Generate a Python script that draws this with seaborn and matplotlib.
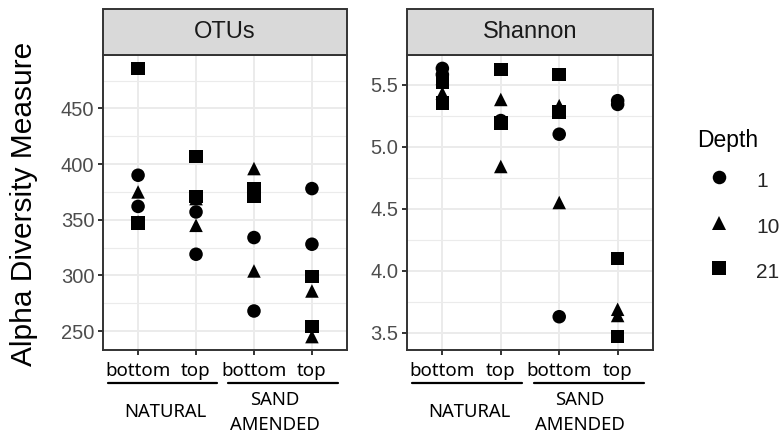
import numpy as np
import pandas as pd
import matplotlib
matplotlib.use("Agg")
import matplotlib.pyplot as plt
import matplotlib.transforms as mtransforms
from matplotlib.patches import Rectangle
from matplotlib.lines import Line2D
from matplotlib.ticker import MultipleLocator, FormatStrFormatter
import seaborn as sns

# ---------------- data ----------------
treatment = ["NATURAL"] * 12 + ["SAND AMENDED"] * 12
position = (["bottom"] * 6 + ["top"] * 6) * 2
depth = ["1", "1", "10", "10", "21", "21"] * 4
otus = [390, 362, 375, 348, 486, 347,
        357, 319, 345, 369, 407, 371,
        334, 268, 396, 304, 378, 371,
        378, 328, 286, 245, 299, 254]
shannon = [5.63, 5.58, 5.55, 5.43, 5.52, 5.35,
           5.21, 5.20, 5.38, 4.84, 5.62, 5.19,
           5.10, 3.63, 5.33, 4.55, 5.58, 5.28,
           5.37, 5.34, 3.69, 3.64, 4.10, 3.47]
measures = ["OTUs", "Shannon"]
depth_levels = ["1", "10", "21"]
x_categories = ["NATURAL|bottom", "NATURAL|top",
                "SAND AMENDED|bottom", "SAND AMENDED|top"]
x_ticklabels = ["bottom", "top", "bottom", "top"]
group_labels = ["NATURAL", "SAND\nAMENDED"]

df = pd.DataFrame({"Treatment": treatment, "Position": position,
                   "Depth": depth, "OTUs": otus, "Shannon": shannon})
df["x"] = pd.Categorical(df["Treatment"] + "|" + df["Position"],
                         categories=x_categories, ordered=True)
long = df.melt(id_vars=["Treatment", "Position", "Depth", "x"],
               value_vars=measures, var_name="Measure", value_name="value")

# ---------------- style ----------------
sns.set_theme(style="white")
plt.rcParams["font.family"] = ["Liberation Sans", "DejaVu Sans"]

W, H = 783, 434
fig = plt.figure(figsize=(W / 100, H / 100), dpi=100)


def rect(l, r, t, b):
    return [l / W, 1 - b / H, (r - l) / W, (b - t) / H]


ax1 = fig.add_axes(rect(103.3, 346.7, 55, 350))
ax2 = fig.add_axes(rect(407.3, 652.7, 55, 350))
axes = [ax1, ax2]
panel_h = 295.0

marker_map = {"1": "o", "10": "^", "21": "s"}
dark = "#333333"
nested_font = ["Noto Sans", "DejaVu Sans"]

for ax, meas in zip(axes, measures):
    sub = long[long["Measure"] == meas]
    sns.scatterplot(data=sub, x="x", y="value", style="Depth",
                    style_order=depth_levels, markers=marker_map,
                    color="black", s=95, linewidth=0, ax=ax,
                    legend=(ax is ax2), zorder=3)
    lo, hi = sub["value"].min(), sub["value"].max()
    pad = 0.05 * (hi - lo)
    ax.set_ylim(lo - pad, hi + pad)
    ax.set_xlim(-0.6, len(x_categories) - 0.4)
    if meas == "OTUs":
        ax.yaxis.set_major_locator(MultipleLocator(50))
        ax.yaxis.set_minor_locator(MultipleLocator(25))
    else:
        ax.yaxis.set_major_locator(MultipleLocator(0.5))
        ax.yaxis.set_minor_locator(MultipleLocator(0.25))
        ax.yaxis.set_major_formatter(FormatStrFormatter("%.1f"))
    ax.set_axisbelow(True)
    ax.grid(which="major", color="#EBEBEB", lw=1.4)
    ax.grid(which="minor", axis="y", color="#EBEBEB", lw=0.8)
    ax.set_xlabel("")
    ax.set_ylabel("")
    for sp in ax.spines.values():
        sp.set_color(dark)
        sp.set_linewidth(1.4)
    ax.set_xticks(range(len(x_categories)))
    ax.set_xticklabels(x_ticklabels, fontfamily=nested_font,
                       color="black", fontsize=13.5)
    ax.tick_params(axis="x", which="both", length=3.5, width=1.4,
                   color=dark, pad=5, bottom=True)
    ax.tick_params(axis="y", which="major", length=3.5, width=1.4,
                   color=dark, labelcolor="#4D4D4D", labelsize=14.5, pad=3,
                   left=True)
    ax.tick_params(axis="y", which="minor", length=0)

    # facet strip
    strip_h = 45.7 / panel_h
    ax.add_patch(Rectangle((0, 1), 1, strip_h, transform=ax.transAxes,
                           clip_on=False, facecolor="#D9D9D9",
                           edgecolor=dark, lw=1.4, zorder=5))
    ax.text(0.5, 1 + strip_h / 2, meas, transform=ax.transAxes,
            ha="center", va="center", fontsize=17, color="#1A1A1A",
            zorder=6)

    # nested group lines and labels
    trans = mtransforms.blended_transform_factory(ax.transData, ax.transAxes)
    for (x0, x1), xc, lab in zip([(-0.52, 1.37), (1.56, 3.45)],
                                 [0.47, 2.36], group_labels):
        ax.add_artist(Line2D([x0, x1], [-0.113, -0.113], transform=trans,
                             color="black", lw=1.6, clip_on=False))
        ax.text(xc, -0.211, lab, transform=trans, ha="center", va="center",
                fontsize=13.3, fontfamily=nested_font,
                color="black", linespacing=1.5)

fig.text(24 / W, 1 - 204 / H, "Alpha Diversity Measure", rotation=90,
         ha="center", va="center", fontsize=21.5, color="black")

# legend (title drawn as separate text for exact placement)
fig.text(697 / W, 1 - 147 / H, "Depth", ha="left", va="baseline",
         fontsize=16.5, color="black")
sns.move_legend(ax2, "upper left", bbox_to_anchor=(702 / W, 1 - 167 / H),
                bbox_transform=fig.transFigure, frameon=False, title=None,
                borderpad=0, borderaxespad=0, labelspacing=0.9,
                handletextpad=1.0, handlelength=1.6, handleheight=1.6,
                fontsize=15)

fig.savefig("out.png", dpi=100)
